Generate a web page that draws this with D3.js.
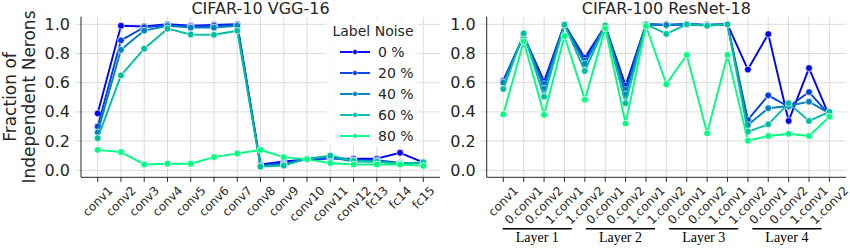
<!DOCTYPE html>
<html>
<head>
<meta charset="utf-8">
<script src="https://cdn.jsdelivr.net/npm/d3@7"></script>
<style>
  body { margin: 0; background: #fff; }
  svg text { font-family: "DejaVu Sans", sans-serif; fill: #262626; }
</style>
</head>
<body>
<svg id="chart" width="850" height="248"></svg>
<script>
// DATA
let vggLayers = ["conv1", "conv2", "conv3", "conv4", "conv5", "conv6", "conv7", "conv8",
  "conv9", "conv10", "conv11", "conv12", "fc13", "fc14", "fc15"];
let resnetLayers = ["conv1",
  "0.conv1", "0.conv2", "1.conv1", "1.conv2",
  "0.conv1", "0.conv2", "1.conv1", "1.conv2",
  "0.conv1", "0.conv2", "1.conv1", "1.conv2",
  "0.conv1", "0.conv2", "1.conv1", "1.conv2"];
let resnetGroups = ["Layer 1", "Layer 2", "Layer 3", "Layer 4"];
let noiseLevels = ["0 %", "20 %", "40 %", "60 %", "80 %"];
let yTicks = [0.0, 0.2, 0.4, 0.6, 0.8, 1.0];

let vggNoise0  = [0.39, 0.99, 0.985, 1.0, 0.99, 0.995, 1.0, 0.04, 0.06, 0.075, 0.08, 0.08, 0.08, 0.12, 0.055];
let vggNoise20 = [0.30, 0.89, 0.98, 0.995, 0.985, 0.99, 0.995, 0.035, 0.05, 0.075, 0.085, 0.07, 0.07, 0.05, 0.05];
let vggNoise40 = [0.26, 0.825, 0.957, 0.99, 0.977, 0.977, 0.99, 0.03, 0.04, 0.078, 0.09, 0.06, 0.06, 0.045, 0.05];
let vggNoise60 = [0.22, 0.65, 0.833, 0.97, 0.93, 0.928, 0.956, 0.025, 0.032, 0.08, 0.1, 0.065, 0.06, 0.045, 0.055];
let vggNoise80 = [0.14, 0.125, 0.04, 0.045, 0.045, 0.09, 0.115, 0.139, 0.09, 0.075, 0.05, 0.04, 0.04, 0.04, 0.03];

let resnetNoise0  = [0.615, 0.92, 0.61, 1.0, 0.77, 0.99, 0.58, 1.0, 0.995, 1.0, 0.995, 1.0, 0.69, 0.933, 0.338, 0.70, 0.37];
let resnetNoise20 = [0.61, 0.92, 0.59, 1.0, 0.75, 0.99, 0.55, 1.0, 0.995, 1.0, 0.995, 1.0, 0.345, 0.513, 0.435, 0.536, 0.38];
let resnetNoise40 = [0.60, 0.93, 0.56, 0.995, 0.73, 0.99, 0.52, 1.0, 0.995, 1.0, 0.995, 1.0, 0.31, 0.425, 0.44, 0.47, 0.39];
let resnetNoise60 = [0.557, 0.938, 0.504, 0.997, 0.68, 0.99, 0.46, 1.0, 0.934, 1.0, 0.99, 1.0, 0.265, 0.315, 0.46, 0.338, 0.40];
let resnetNoise80 = [0.383, 0.883, 0.38, 0.92, 0.484, 0.972, 0.32, 0.988, 0.59, 0.79, 0.253, 0.79, 0.203, 0.235, 0.25, 0.235, 0.367];

let vggSeries = [vggNoise0, vggNoise20, vggNoise40, vggNoise60, vggNoise80];
let resnetSeries = [resnetNoise0, resnetNoise20, resnetNoise40, resnetNoise60, resnetNoise80];

// GENERAL SETUP
let svg = d3.select("#chart");
let color = d3.scaleOrdinal()
    .domain(noiseLevels)
    .range(noiseLevels.map((d, i) => d3.interpolateRgb("#0000ff", "#00ff80")(i / 4)));

let plotTop = 16.7, plotBottom = 177.3;
let y = d3.scaleLinear().domain([-0.048, 1.052]).range([plotBottom, plotTop]);

function drawPanel(cfg) {
  let g = svg.append("g");
  let x = d3.scalePoint()
      .domain(d3.range(cfg.labels.length))
      .range([cfg.left + cfg.pad, cfg.right - cfg.pad]);

  // grid
  g.selectAll(".hgrid")
    .data(yTicks)
    .enter().append("line")
    .attr("x1", cfg.left - 6).attr("x2", cfg.right)
    .attr("y1", d => y(d)).attr("y2", d => y(d))
    .attr("stroke", "#dcdcdc").attr("stroke-width", 1);
  g.selectAll(".vgrid")
    .data(x.domain())
    .enter().append("line")
    .attr("x1", d => x(d)).attr("x2", d => x(d))
    .attr("y1", plotTop).attr("y2", plotBottom)
    .attr("stroke", "#dcdcdc").attr("stroke-width", 1);

  // spines
  g.append("line")
    .attr("x1", cfg.left).attr("x2", cfg.left)
    .attr("y1", plotTop).attr("y2", plotBottom)
    .attr("stroke", "#262626").attr("stroke-width", 1);
  g.append("line")
    .attr("x1", cfg.left).attr("x2", cfg.right)
    .attr("y1", plotBottom).attr("y2", plotBottom)
    .attr("stroke", "#262626").attr("stroke-width", 1);

  // y tick labels
  g.selectAll(".ylab")
    .data(yTicks)
    .enter().append("text")
    .attr("x", cfg.left - 11)
    .attr("y", d => y(d))
    .attr("text-anchor", "end")
    .attr("dominant-baseline", "central")
    .attr("font-size", 16)
    .text(d => d3.format(".1f")(d));

  // x ticks
  g.selectAll(".xtick")
    .data(x.domain())
    .enter().append("line")
    .attr("x1", d => x(d)).attr("x2", d => x(d))
    .attr("y1", plotBottom).attr("y2", plotBottom + 4.5)
    .attr("stroke", "#262626").attr("stroke-width", 1);

  let xlabs = g.selectAll(".xlab")
    .data(x.domain())
    .enter().append("text")
    .attr("text-anchor", "middle")
    .attr("dominant-baseline", "central")
    .attr("font-size", 12)
    .text(d => cfg.labels[d]);
  xlabs.each(function(d) {
    let len = this.getComputedTextLength();
    let half = (len + 9) * Math.SQRT1_2 / 2;
    let cy = plotBottom + 8 + half;
    d3.select(this).attr("transform", "translate(" + x(d) + "," + cy + ") rotate(-45)");
  });

  // title
  g.append("text")
    .attr("x", (cfg.left + cfg.right) / 2)
    .attr("y", 13.5)
    .attr("text-anchor", "middle")
    .attr("font-size", 16)
    .text(cfg.title);

  // series
  let line = d3.line()
      .x((d, i) => x(i))
      .y(d => y(d));
  cfg.series.forEach(function(values, s) {
    let c = color(noiseLevels[s]);
    g.append("path")
      .datum(values)
      .attr("fill", "none")
      .attr("stroke", c)
      .attr("stroke-width", 1.9)
      .attr("stroke-linejoin", "round")
      .attr("d", line);
    g.selectAll(".pt" + s)
      .data(values)
      .enter().append("circle")
      .attr("cx", (d, i) => x(i))
      .attr("cy", d => y(d))
      .attr("r", 3.4)
      .attr("fill", c)
      .attr("stroke", "#fff")
      .attr("stroke-width", 0.7);
  });

  return { g: g, x: x };
}

let vgg = drawPanel({
  title: "CIFAR-10 VGG-16",
  labels: vggLayers,
  series: vggSeries,
  left: 81, right: 440, pad: 16.7
});

let resnet = drawPanel({
  title: "CIFAR-100 ResNet-18",
  labels: resnetLayers,
  series: resnetSeries,
  left: 486.7, right: 846, pad: 16.6
});

// LEGEND (inside the VGG panel)
let legend = vgg.g.append("g");
legend.append("rect")
  .attr("x", 326).attr("y", 18)
  .attr("width", 92).attr("height", 128)
  .attr("fill", "#fff").attr("fill-opacity", 0.85);
legend.append("text")
  .attr("x", 373).attr("y", 31)
  .attr("text-anchor", "middle")
  .attr("dominant-baseline", "central")
  .attr("font-size", 14)
  .text("Label Noise");
let items = legend.selectAll(".item")
  .data(noiseLevels)
  .enter().append("g")
  .attr("transform", (d, i) => "translate(0," + (52 + i * 21) + ")");
items.append("line")
  .attr("x1", 340).attr("x2", 370)
  .attr("stroke", d => color(d)).attr("stroke-width", 1.9);
items.append("circle")
  .attr("cx", 355).attr("r", 2.4)
  .attr("fill", d => color(d))
  .attr("stroke", "#fff").attr("stroke-width", 0.5);
items.append("text")
  .attr("x", 378)
  .attr("dominant-baseline", "central")
  .attr("font-size", 14)
  .text(d => d);

// LAYER GROUP BRACKETS (under the ResNet panel)
let groups = resnet.g.selectAll(".grp")
  .data(resnetGroups)
  .enter().append("g");
groups.append("line")
  .attr("x1", (d, i) => resnet.x(1 + i * 4) - 21 + i * 1.7)
  .attr("x2", (d, i) => resnet.x(4 + i * 4) - 13 + i * 1.7)
  .attr("y1", 228.7).attr("y2", 228.7)
  .attr("stroke", "#000").attr("stroke-width", 1.5);
groups.append("text")
  .attr("x", (d, i) => (resnet.x(1 + i * 4) + resnet.x(4 + i * 4)) / 2 - 17 + i * 1.7)
  .attr("y", 242)
  .attr("text-anchor", "middle")
  .attr("font-size", 14)
  .style("font-family", "'Liberation Serif', serif")
  .style("fill", "#000")
  .text(d => d);

// Y AXIS LABEL
let ylab = svg.append("text")
  .attr("transform", "translate(0," + ((plotTop + plotBottom) / 2) + ") rotate(-90)")
  .attr("text-anchor", "middle")
  .attr("font-size", 17);
ylab.append("tspan").attr("x", 0).attr("y", 16).text("Fraction  of");
ylab.append("tspan").attr("x", 0).attr("y", 35).text("Independent Nerons");
</script>
</body>
</html>
